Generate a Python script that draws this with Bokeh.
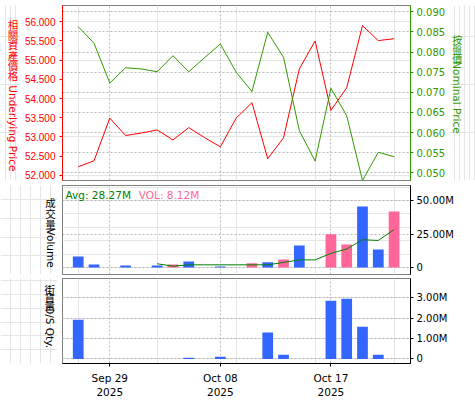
import math
from datetime import date
from bokeh.plotting import figure
from bokeh.models import (Range1d, LinearAxis, FixedTicker, Grid, Label,
                          ColumnDataSource, NumeralTickFormatter)
from bokeh.layouts import column, row
from bokeh.embed import file_html
from bokeh.resources import INLINE

# ---------------- data ----------------
dates = ["2025-09-25", "2025-09-26", "2025-09-29", "2025-09-30", "2025-10-01",
         "2025-10-02", "2025-10-03", "2025-10-06", "2025-10-07", "2025-10-08",
         "2025-10-09", "2025-10-10", "2025-10-13", "2025-10-14", "2025-10-15",
         "2025-10-16", "2025-10-17", "2025-10-20", "2025-10-21", "2025-10-22",
         "2025-10-23"]
underlying = [52.22, 52.375, 53.49, 53.035, 53.10, 53.18, 52.92, 53.24, 52.98, 52.74,
              53.49, 53.89, 52.43, 52.975, 54.77, 55.50, 53.69, 54.28, 55.90, 55.51,
              55.56]
nominal = [0.0863, 0.0822, 0.0723, 0.0761, 0.0758, 0.0751, 0.0791, 0.0751, 0.0786, 0.0820,
           0.0750, 0.0702, 0.0849, 0.0787, 0.0605, 0.0529, 0.0710, 0.0642, 0.0481, 0.0551,
           0.0540]
volume_m = [8.2, 2.2, 0, 1.5, 0, 1.5, 2.2, 4.5, 0, 0.7,
            0, 3.2, 4.0, 6.0, 16.4, 0, 24.9, 17.2, 45.5, 13.4,
            41.8]
volume_dir = ["dn", "dn", "", "dn", "", "dn", "up", "dn", "", "dn",
              "", "up", "dn", "up", "dn", "", "up", "up", "dn", "dn",
              "up"]
avg_m = [float("nan")] * 5 + [2.8, 1.0, 2.0, 2.0, 2.0, 2.0, 2.0, 2.0, 3.8, 5.7,
                              5.7, 10.5, 13.8, 20.7, 20.2, 28.27]
os_qty_m = [1.92, 0, 0, 0, 0, 0, 0, 0.06, 0, 0.11,
            0, 0, 1.29, 0.2, 0, 0, 2.84, 2.94, 1.57, 0.2,
            0]
label_dates = ["2025-09-29", "2025-10-08", "2025-10-17"]
left_ticks = [52.0, 52.5, 53.0, 53.5, 54.0, 54.5, 55.0, 55.5, 56.0]
right_ticks = [0.050, 0.055, 0.060, 0.065, 0.070, 0.075, 0.080, 0.085, 0.090]
vol_ticks = [0, 25, 50]
vol_tick_labels = ["0", "25.00M", "50.00M"]
os_ticks = [0, 1, 2, 3]
os_tick_labels = ["0", "1.00M", "2.00M", "3.00M"]
avg_text = "Avg: 28.27M"
vol_text = "VOL: 8.12M"
underlying_title = ("相關資產價格", "Underlying Price")
nominal_title = ("按盤價", "Nominal Price")
volume_title = ("成交量", "Volume")
os_title = ("街貨量", "O/S Qty.")

RED = "#FF0000"
GREEN = "#339900"
BLUE = "#3366FF"
PINK = "#FF6699"
DKGREEN = "#008000"
GRID = "#b8b8b8"
FONT = "DejaVu Sans"
CJK = "Noto Sans CJK TC"

x = list(range(len(dates)))
tick_pos = [dates.index(d) for d in label_dates]
tick_lbl = {}
for d, pos in zip(label_dates, tick_pos):
    dd = date.fromisoformat(d)
    tick_lbl[pos] = dd.strftime("%b %d") + "\n" + str(dd.year)

xr = Range1d(-0.995, 21.04)


def make_fig(width, height, yr, left, right, top, bottom):
    p = figure(width=width, height=height, x_range=xr, y_range=yr,
               output_backend="svg", toolbar_location=None,
               x_axis_location=None, y_axis_location=None,
               min_border_left=left, min_border_right=right,
               min_border_top=top, min_border_bottom=bottom)
    p.outline_line_color = "black"
    p.outline_line_dash = "1 1"
    p.outline_line_width = 1
    p.background_fill_color = "white"
    p.border_fill_color = "white"
    vg = Grid(dimension=0, ticker=FixedTicker(ticks=tick_pos),
              grid_line_color=GRID, grid_line_dash="2 2")
    p.add_layout(vg)
    return p


def label_fig(width, height):
    f = figure(width=width, height=height, x_range=Range1d(0, width),
               y_range=Range1d(0, height), output_backend="svg",
               toolbar_location=None, x_axis_location=None, y_axis_location=None,
               min_border_left=0, min_border_right=0, min_border_top=0,
               min_border_bottom=0)
    f.outline_line_color = None
    f.background_fill_color = "white"
    f.border_fill_color = "white"
    return f


def vlabel(f, xc, top_cjk, pitch, title, top_lat, color, size="10.5px"):
    cjk, lat = title
    for k, ch in enumerate(cjk):
        f.add_layout(Label(x=xc, y=f.height - top_cjk - k * pitch, text=ch,
                           text_align="center", text_baseline="top",
                           text_color=color, text_font=CJK, text_font_size=size))
    f.add_layout(Label(x=xc, y=f.height - top_lat, text=lat, angle=-math.pi / 2,
                       text_align="left", text_baseline="middle", text_color=color,
                       text_font=FONT, text_font_size="10.5px"))


def style_axis(ax, color, size, font=FONT, standoff=3):
    ax.axis_line_color = color
    ax.major_tick_line_color = color
    ax.major_tick_out = 3
    ax.major_tick_in = 0
    ax.minor_tick_line_color = None
    ax.major_label_text_color = color
    ax.major_label_text_font = font
    ax.major_label_text_font_size = size
    ax.major_label_standoff = standoff


# ---------------- top panel ----------------
p1 = make_fig(429, 182, Range1d(51.862, 56.425), 42, 39, 5, 2)
p1.extra_y_ranges = {"nom": Range1d(0.048087, 0.091565)}
hg1 = Grid(dimension=1, ticker=FixedTicker(ticks=right_ticks), y_range_name="nom",
           grid_line_color=GRID, grid_line_dash="2 2")
p1.add_layout(hg1)

src = ColumnDataSource(dict(x=x, u=underlying, n=nominal))
p1.line("x", "u", source=src, line_color=RED, line_width=1)
p1.line("x", "n", source=src, line_color=GREEN, line_width=1, y_range_name="nom")

la = LinearAxis(ticker=FixedTicker(ticks=left_ticks),
                formatter=NumeralTickFormatter(format="0.000"))
style_axis(la, RED, "10px", font="Liberation Sans", standoff=4)
p1.add_layout(la, "left")
ra = LinearAxis(y_range_name="nom", ticker=FixedTicker(ticks=right_ticks),
                formatter=NumeralTickFormatter(format="0.000"))
style_axis(ra, GREEN, "10px")
p1.add_layout(ra, "right")

l1 = label_fig(20, 182)
vlabel(l1, 12.5, 11.5, 10.8, underlying_title, 83, RED)
r1 = label_fig(26, 182)
vlabel(r1, 7.7, 27.5, 10.0, nominal_title, 58, GREEN, size="10px")

# ---------------- volume panel ----------------
p2 = make_fig(418, 95, Range1d(-5.22, 61.19), 5, 65, 3, 3)
hg2 = Grid(dimension=1, ticker=FixedTicker(ticks=vol_ticks),
           grid_line_color=GRID, grid_line_dash="2 2")
p2.add_layout(hg2)
vx = [xi for xi, v in zip(x, volume_m) if v > 0]
vv = [v for v in volume_m if v > 0]
vc = [PINK if d == "up" else BLUE for d, v in zip(volume_dir, volume_m) if v > 0]
p2.vbar(x=vx, top=vv, bottom=0, width=0.68, fill_color=vc, line_color=None)
p2.line(x, avg_m, line_color=DKGREEN, line_width=1)
va = LinearAxis(ticker=FixedTicker(ticks=vol_ticks),
                major_label_overrides={t: l for t, l in zip(vol_ticks, vol_tick_labels)})
style_axis(va, "black", "10px")
p2.add_layout(va, "right")
p2.add_layout(Label(x=3, y=79.5, x_units="screen", y_units="screen", text=avg_text,
                    text_baseline="middle", text_color=DKGREEN, text_font=FONT,
                    text_font_size="10.5px"))
p2.add_layout(Label(x=76.3, y=79.5, x_units="screen", y_units="screen", text=vol_text,
                    text_baseline="middle", text_color=PINK, text_font=FONT,
                    text_font_size="10.5px"))
l2 = label_fig(57, 95)
vlabel(l2, 50, 10.5, 11.7, volume_title, 46, "black")

# ---------------- O/S qty panel ----------------
p3 = make_fig(418, 123, Range1d(-0.222, 3.929), 5, 65, 1, 34)
hg3 = Grid(dimension=1, ticker=FixedTicker(ticks=os_ticks),
           grid_line_color=GRID, grid_line_dash="2 2")
p3.add_layout(hg3)
ox = [xi for xi, v in zip(x, os_qty_m) if v > 0]
ov = [v for v in os_qty_m if v > 0]
p3.vbar(x=ox, top=ov, bottom=0, width=0.68, fill_color=BLUE, line_color=None)
oa = LinearAxis(ticker=FixedTicker(ticks=os_ticks),
                major_label_overrides={t: l for t, l in zip(os_ticks, os_tick_labels)})
style_axis(oa, "black", "10px")
p3.add_layout(oa, "right")
xa = LinearAxis(ticker=FixedTicker(ticks=tick_pos), major_label_overrides=tick_lbl)
style_axis(xa, "black", "10.5px", standoff=5)
p3.add_layout(xa, "below")
l3 = label_fig(57, 123)
vlabel(l3, 49.3, 4.5, 11.5, os_title, 39.7, "black")

layout = column(row(l1, p1, r1, spacing=0),
                row(l2, p2, spacing=0),
                row(l3, p3, spacing=0), spacing=0)

open("out.html", "w").write(file_html(layout, INLINE))
